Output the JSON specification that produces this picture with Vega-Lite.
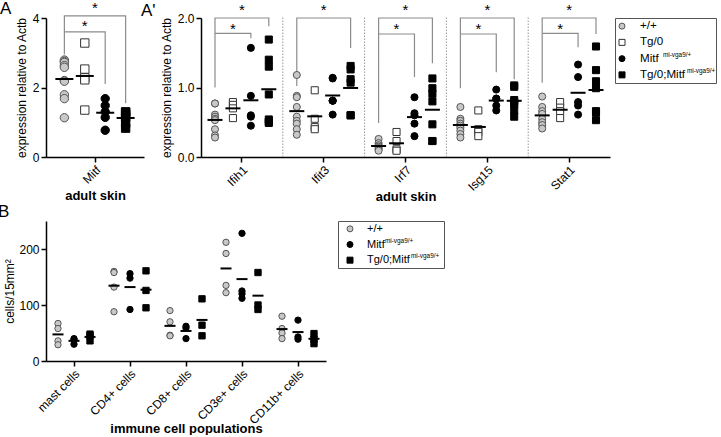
{
  "$schema": "https://vega.github.io/schema/vega-lite/v6.json",
  "background": "white",
  "padding": {"left": -2, "top": 0, "right": 0, "bottom": 0},
  "config": {
    "view": {"stroke": null},
    "font": "Liberation Sans",
    "axis": {"domainColor": "#000", "domainWidth": 1.5, "tickColor": "#000", "tickWidth": 1.5, "tickSize": 5, "labelColor": "#000", "labelFontSize": 12, "titleColor": "#000", "titleFontSize": 12, "titleFontWeight": "normal", "grid": false, "labelFont": "Liberation Sans", "titleFont": "Liberation Sans"},
    "axisY": {"labelOverlap": false},
    "axisX": {"labelAngle": -45, "titleFontWeight": "bold", "titleFontSize": 13},
    "title": {"font": "Liberation Sans", "fontWeight": "normal", "fontSize": 17, "color": "#000"}
  },
  "datasets": {
    "skinA": [
      {"gene": "Mitf", "genotype": "wt", "value": 2.79}, {"gene": "Mitf", "genotype": "wt", "value": 2.75}, {"gene": "Mitf", "genotype": "wt", "value": 2.72}, {"gene": "Mitf", "genotype": "wt", "value": 2.63}, {"gene": "Mitf", "genotype": "wt", "value": 2.58}, {"gene": "Mitf", "genotype": "wt", "value": 2.2}, {"gene": "Mitf", "genotype": "wt", "value": 2.18}, {"gene": "Mitf", "genotype": "wt", "value": 1.79}, {"gene": "Mitf", "genotype": "wt", "value": 1.68}, {"gene": "Mitf", "genotype": "wt", "value": 1.13},
      {"gene": "Mitf", "genotype": "tg", "value": 3.28}, {"gene": "Mitf", "genotype": "tg", "value": 2.53}, {"gene": "Mitf", "genotype": "tg", "value": 2.28}, {"gene": "Mitf", "genotype": "tg", "value": 2.22}, {"gene": "Mitf", "genotype": "tg", "value": 1.35},
      {"gene": "Mitf", "genotype": "mitf", "value": 1.68}, {"gene": "Mitf", "genotype": "mitf", "value": 1.48}, {"gene": "Mitf", "genotype": "mitf", "value": 1.3}, {"gene": "Mitf", "genotype": "mitf", "value": 1.14}, {"gene": "Mitf", "genotype": "mitf", "value": 0.77},
      {"gene": "Mitf", "genotype": "tgmitf", "value": 1.3}, {"gene": "Mitf", "genotype": "tgmitf", "value": 1.28}, {"gene": "Mitf", "genotype": "tgmitf", "value": 1.22}, {"gene": "Mitf", "genotype": "tgmitf", "value": 1.14}, {"gene": "Mitf", "genotype": "tgmitf", "value": 0.97}, {"gene": "Mitf", "genotype": "tgmitf", "value": 0.83}
    ],
    "bracketA": [
      {"gene": "Mitf", "bracket": "outer", "step": 1, "genotype": "wt", "value": 2.95},
      {"gene": "Mitf", "bracket": "outer", "step": 2, "genotype": "wt", "value": 4.06},
      {"gene": "Mitf", "bracket": "outer", "step": 3, "genotype": "tgmitf", "value": 4.06},
      {"gene": "Mitf", "bracket": "outer", "step": 4, "genotype": "tgmitf", "value": 1.55},
      {"gene": "Mitf", "bracket": "inner", "step": 1, "genotype": "wt", "value": 3.6},
      {"gene": "Mitf", "bracket": "inner", "step": 2, "genotype": "mitf", "value": 3.6},
      {"gene": "Mitf", "bracket": "inner", "step": 3, "genotype": "mitf", "value": 2.1}
    ],
    "starA": [
      {"gene": "Mitf", "kind": "outer", "genotype": "tg", "value": 4.14, "label": "*"},
      {"gene": "Mitf", "kind": "inner", "genotype": "tg", "value": 3.64, "label": "*"}
    ],
    "skinAp": [
      {"gene": "Ifih1", "genotype": "wt", "value": 0.77}, {"gene": "Ifih1", "genotype": "wt", "value": 0.77}, {"gene": "Ifih1", "genotype": "wt", "value": 0.61}, {"gene": "Ifih1", "genotype": "wt", "value": 0.58}, {"gene": "Ifih1", "genotype": "wt", "value": 0.55}, {"gene": "Ifih1", "genotype": "wt", "value": 0.53}, {"gene": "Ifih1", "genotype": "wt", "value": 0.4}, {"gene": "Ifih1", "genotype": "wt", "value": 0.31}, {"gene": "Ifih1", "genotype": "wt", "value": 0.28},
      {"gene": "Ifih1", "genotype": "tg", "value": 0.79}, {"gene": "Ifih1", "genotype": "tg", "value": 0.75}, {"gene": "Ifih1", "genotype": "tg", "value": 0.7}, {"gene": "Ifih1", "genotype": "tg", "value": 0.56},
      {"gene": "Ifih1", "genotype": "mitf", "value": 1.57}, {"gene": "Ifih1", "genotype": "mitf", "value": 0.88}, {"gene": "Ifih1", "genotype": "mitf", "value": 0.6}, {"gene": "Ifih1", "genotype": "mitf", "value": 0.58}, {"gene": "Ifih1", "genotype": "mitf", "value": 0.45},
      {"gene": "Ifih1", "genotype": "tgmitf", "value": 1.69}, {"gene": "Ifih1", "genotype": "tgmitf", "value": 1.4}, {"gene": "Ifih1", "genotype": "tgmitf", "value": 1.3}, {"gene": "Ifih1", "genotype": "tgmitf", "value": 0.9}, {"gene": "Ifih1", "genotype": "tgmitf", "value": 0.54}, {"gene": "Ifih1", "genotype": "tgmitf", "value": 0.51}, {"gene": "Ifih1", "genotype": "tgmitf", "value": 0.49},
      {"gene": "Ifit3", "genotype": "wt", "value": 1.18}, {"gene": "Ifit3", "genotype": "wt", "value": 0.88}, {"gene": "Ifit3", "genotype": "wt", "value": 0.86}, {"gene": "Ifit3", "genotype": "wt", "value": 0.72}, {"gene": "Ifit3", "genotype": "wt", "value": 0.58}, {"gene": "Ifit3", "genotype": "wt", "value": 0.52}, {"gene": "Ifit3", "genotype": "wt", "value": 0.48}, {"gene": "Ifit3", "genotype": "wt", "value": 0.4}, {"gene": "Ifit3", "genotype": "wt", "value": 0.32},
      {"gene": "Ifit3", "genotype": "tg", "value": 0.96}, {"gene": "Ifit3", "genotype": "tg", "value": 0.55}, {"gene": "Ifit3", "genotype": "tg", "value": 0.43}, {"gene": "Ifit3", "genotype": "tg", "value": 0.4},
      {"gene": "Ifit3", "genotype": "mitf", "value": 1.14}, {"gene": "Ifit3", "genotype": "mitf", "value": 1.13}, {"gene": "Ifit3", "genotype": "mitf", "value": 0.81}, {"gene": "Ifit3", "genotype": "mitf", "value": 0.81}, {"gene": "Ifit3", "genotype": "mitf", "value": 0.81}, {"gene": "Ifit3", "genotype": "mitf", "value": 0.61},
      {"gene": "Ifit3", "genotype": "tgmitf", "value": 1.31}, {"gene": "Ifit3", "genotype": "tgmitf", "value": 1.26}, {"gene": "Ifit3", "genotype": "tgmitf", "value": 1.12}, {"gene": "Ifit3", "genotype": "tgmitf", "value": 1.07}, {"gene": "Ifit3", "genotype": "tgmitf", "value": 0.6}, {"gene": "Ifit3", "genotype": "tgmitf", "value": 0.6},
      {"gene": "Irf7", "genotype": "wt", "value": 0.26}, {"gene": "Irf7", "genotype": "wt", "value": 0.2}, {"gene": "Irf7", "genotype": "wt", "value": 0.17}, {"gene": "Irf7", "genotype": "wt", "value": 0.15}, {"gene": "Irf7", "genotype": "wt", "value": 0.13}, {"gene": "Irf7", "genotype": "wt", "value": 0.11}, {"gene": "Irf7", "genotype": "wt", "value": 0.09},
      {"gene": "Irf7", "genotype": "tg", "value": 0.36}, {"gene": "Irf7", "genotype": "tg", "value": 0.23}, {"gene": "Irf7", "genotype": "tg", "value": 0.11}, {"gene": "Irf7", "genotype": "tg", "value": 0.09},
      {"gene": "Irf7", "genotype": "mitf", "value": 0.86}, {"gene": "Irf7", "genotype": "mitf", "value": 0.63}, {"gene": "Irf7", "genotype": "mitf", "value": 0.6}, {"gene": "Irf7", "genotype": "mitf", "value": 0.48}, {"gene": "Irf7", "genotype": "mitf", "value": 0.3},
      {"gene": "Irf7", "genotype": "tgmitf", "value": 1.13}, {"gene": "Irf7", "genotype": "tgmitf", "value": 0.99}, {"gene": "Irf7", "genotype": "tgmitf", "value": 0.91}, {"gene": "Irf7", "genotype": "tgmitf", "value": 0.8}, {"gene": "Irf7", "genotype": "tgmitf", "value": 0.47}, {"gene": "Irf7", "genotype": "tgmitf", "value": 0.23}, {"gene": "Irf7", "genotype": "tgmitf", "value": 0.23},
      {"gene": "Isg15", "genotype": "wt", "value": 0.72}, {"gene": "Isg15", "genotype": "wt", "value": 0.55}, {"gene": "Isg15", "genotype": "wt", "value": 0.52}, {"gene": "Isg15", "genotype": "wt", "value": 0.48}, {"gene": "Isg15", "genotype": "wt", "value": 0.45}, {"gene": "Isg15", "genotype": "wt", "value": 0.42}, {"gene": "Isg15", "genotype": "wt", "value": 0.38}, {"gene": "Isg15", "genotype": "wt", "value": 0.33}, {"gene": "Isg15", "genotype": "wt", "value": 0.28},
      {"gene": "Isg15", "genotype": "tg", "value": 0.67}, {"gene": "Isg15", "genotype": "tg", "value": 0.4}, {"gene": "Isg15", "genotype": "tg", "value": 0.36}, {"gene": "Isg15", "genotype": "tg", "value": 0.3},
      {"gene": "Isg15", "genotype": "mitf", "value": 0.97}, {"gene": "Isg15", "genotype": "mitf", "value": 0.84}, {"gene": "Isg15", "genotype": "mitf", "value": 0.84}, {"gene": "Isg15", "genotype": "mitf", "value": 0.74}, {"gene": "Isg15", "genotype": "mitf", "value": 0.67},
      {"gene": "Isg15", "genotype": "tgmitf", "value": 1.03}, {"gene": "Isg15", "genotype": "tgmitf", "value": 1.01}, {"gene": "Isg15", "genotype": "tgmitf", "value": 0.82}, {"gene": "Isg15", "genotype": "tgmitf", "value": 0.79}, {"gene": "Isg15", "genotype": "tgmitf", "value": 0.76}, {"gene": "Isg15", "genotype": "tgmitf", "value": 0.67}, {"gene": "Isg15", "genotype": "tgmitf", "value": 0.58},
      {"gene": "Stat1", "genotype": "wt", "value": 0.87}, {"gene": "Stat1", "genotype": "wt", "value": 0.72}, {"gene": "Stat1", "genotype": "wt", "value": 0.66}, {"gene": "Stat1", "genotype": "wt", "value": 0.62}, {"gene": "Stat1", "genotype": "wt", "value": 0.55}, {"gene": "Stat1", "genotype": "wt", "value": 0.5}, {"gene": "Stat1", "genotype": "wt", "value": 0.46}, {"gene": "Stat1", "genotype": "wt", "value": 0.41},
      {"gene": "Stat1", "genotype": "tg", "value": 0.79}, {"gene": "Stat1", "genotype": "tg", "value": 0.71}, {"gene": "Stat1", "genotype": "tg", "value": 0.66}, {"gene": "Stat1", "genotype": "tg", "value": 0.56},
      {"gene": "Stat1", "genotype": "mitf", "value": 1.33}, {"gene": "Stat1", "genotype": "mitf", "value": 1.15}, {"gene": "Stat1", "genotype": "mitf", "value": 0.79}, {"gene": "Stat1", "genotype": "mitf", "value": 0.74}, {"gene": "Stat1", "genotype": "mitf", "value": 0.61},
      {"gene": "Stat1", "genotype": "tgmitf", "value": 1.59}, {"gene": "Stat1", "genotype": "tgmitf", "value": 1.25}, {"gene": "Stat1", "genotype": "tgmitf", "value": 1.09}, {"gene": "Stat1", "genotype": "tgmitf", "value": 0.99}, {"gene": "Stat1", "genotype": "tgmitf", "value": 0.66}, {"gene": "Stat1", "genotype": "tgmitf", "value": 0.64}, {"gene": "Stat1", "genotype": "tgmitf", "value": 0.53}
    ],
    "bracketAp": [
      {"gene": "Ifih1", "bracket": "Ifih1-o", "step": 1, "genotype": "wt", "value": 1.0},
      {"gene": "Ifih1", "bracket": "Ifih1-o", "step": 2, "genotype": "wt", "value": 2.0},
      {"gene": "Ifih1", "bracket": "Ifih1-o", "step": 3, "genotype": "tgmitf", "value": 2.0},
      {"gene": "Ifih1", "bracket": "Ifih1-o", "step": 4, "genotype": "tgmitf", "value": 1.88},
      {"gene": "Ifih1", "bracket": "Ifih1-i", "step": 1, "genotype": "wt", "value": 1.78},
      {"gene": "Ifih1", "bracket": "Ifih1-i", "step": 2, "genotype": "mitf", "value": 1.78},
      {"gene": "Ifih1", "bracket": "Ifih1-i", "step": 3, "genotype": "mitf", "value": 1.71},
      {"gene": "Ifit3", "bracket": "Ifit3-o", "step": 1, "genotype": "wt", "value": 1.02},
      {"gene": "Ifit3", "bracket": "Ifit3-o", "step": 2, "genotype": "wt", "value": 2.0},
      {"gene": "Ifit3", "bracket": "Ifit3-o", "step": 3, "genotype": "tgmitf", "value": 2.0},
      {"gene": "Ifit3", "bracket": "Ifit3-o", "step": 4, "genotype": "tgmitf", "value": 1.57},
      {"gene": "Irf7", "bracket": "Irf7-o", "step": 1, "genotype": "wt", "value": 0.49},
      {"gene": "Irf7", "bracket": "Irf7-o", "step": 2, "genotype": "wt", "value": 2.0},
      {"gene": "Irf7", "bracket": "Irf7-o", "step": 3, "genotype": "tgmitf", "value": 2.0},
      {"gene": "Irf7", "bracket": "Irf7-o", "step": 4, "genotype": "tgmitf", "value": 1.35},
      {"gene": "Irf7", "bracket": "Irf7-i", "step": 1, "genotype": "wt", "value": 1.77},
      {"gene": "Irf7", "bracket": "Irf7-i", "step": 2, "genotype": "mitf", "value": 1.77},
      {"gene": "Irf7", "bracket": "Irf7-i", "step": 3, "genotype": "mitf", "value": 1.15},
      {"gene": "Isg15", "bracket": "Isg15-o", "step": 1, "genotype": "wt", "value": 0.99},
      {"gene": "Isg15", "bracket": "Isg15-o", "step": 2, "genotype": "wt", "value": 2.0},
      {"gene": "Isg15", "bracket": "Isg15-o", "step": 3, "genotype": "tgmitf", "value": 2.0},
      {"gene": "Isg15", "bracket": "Isg15-o", "step": 4, "genotype": "tgmitf", "value": 1.12},
      {"gene": "Isg15", "bracket": "Isg15-i", "step": 1, "genotype": "wt", "value": 1.77},
      {"gene": "Isg15", "bracket": "Isg15-i", "step": 2, "genotype": "mitf", "value": 1.77},
      {"gene": "Isg15", "bracket": "Isg15-i", "step": 3, "genotype": "mitf", "value": 1.22},
      {"gene": "Stat1", "bracket": "Stat1-o", "step": 1, "genotype": "wt", "value": 1.07},
      {"gene": "Stat1", "bracket": "Stat1-o", "step": 2, "genotype": "wt", "value": 2.0},
      {"gene": "Stat1", "bracket": "Stat1-o", "step": 3, "genotype": "tgmitf", "value": 2.0},
      {"gene": "Stat1", "bracket": "Stat1-o", "step": 4, "genotype": "tgmitf", "value": 1.77},
      {"gene": "Stat1", "bracket": "Stat1-i", "step": 1, "genotype": "wt", "value": 1.78},
      {"gene": "Stat1", "bracket": "Stat1-i", "step": 2, "genotype": "mitf", "value": 1.78},
      {"gene": "Stat1", "bracket": "Stat1-i", "step": 3, "genotype": "mitf", "value": 1.58}
    ],
    "starAp": [
      {"gene": "Ifih1", "kind": "outer", "genotype": "tg", "value": 2.05, "label": "*"},
      {"gene": "Ifih1", "kind": "inner", "genotype": "tg", "value": 1.77, "label": "*"},
      {"gene": "Ifit3", "kind": "outer", "genotype": "tg", "value": 2.05, "label": "*"},
      {"gene": "Irf7", "kind": "outer", "genotype": "tg", "value": 2.05, "label": "*"},
      {"gene": "Irf7", "kind": "inner", "genotype": "tg", "value": 1.77, "label": "*"},
      {"gene": "Isg15", "kind": "outer", "genotype": "tg", "value": 2.05, "label": "*"},
      {"gene": "Isg15", "kind": "inner", "genotype": "tg", "value": 1.77, "label": "*"},
      {"gene": "Stat1", "kind": "outer", "genotype": "tg", "value": 2.05, "label": "*"},
      {"gene": "Stat1", "kind": "inner", "genotype": "tg", "value": 1.77, "label": "*"}
    ],
    "sepAp": [{"gene": "Ifit3"}, {"gene": "Irf7"}, {"gene": "Isg15"}, {"gene": "Stat1"}],
    "legTop": [
      {"genotype": "wt", "label": "+/+", "sup": ""},
      {"genotype": "tg", "label": "Tg/0", "sup": ""},
      {"genotype": "mitf", "label": "Mitf", "sup": "mi-vga9/+"},
      {"genotype": "tgmitf", "label": "Tg/0;Mitf", "sup": "mi-vga9/+"}
    ],
    "legB": [
      {"genotype": "wt", "label": "+/+", "sup": ""},
      {"genotype": "mitf", "label": "Mitf", "sup": "mi-vga9/+"},
      {"genotype": "tgmitf", "label": "Tg/0;Mitf", "sup": "mi-vga9/+"}
    ],
    "immune": [
      {"cell": "mast cells", "genotype": "wt", "value": 67}, {"cell": "mast cells", "genotype": "wt", "value": 58}, {"cell": "mast cells", "genotype": "wt", "value": 36}, {"cell": "mast cells", "genotype": "wt", "value": 29},
      {"cell": "mast cells", "genotype": "mitf", "value": 40}, {"cell": "mast cells", "genotype": "mitf", "value": 38}, {"cell": "mast cells", "genotype": "mitf", "value": 30},
      {"cell": "mast cells", "genotype": "tgmitf", "value": 48}, {"cell": "mast cells", "genotype": "tgmitf", "value": 45}, {"cell": "mast cells", "genotype": "tgmitf", "value": 36},
      {"cell": "CD4+ cells", "genotype": "wt", "value": 160}, {"cell": "CD4+ cells", "genotype": "wt", "value": 158}, {"cell": "CD4+ cells", "genotype": "wt", "value": 132}, {"cell": "CD4+ cells", "genotype": "wt", "value": 88},
      {"cell": "CD4+ cells", "genotype": "mitf", "value": 156}, {"cell": "CD4+ cells", "genotype": "mitf", "value": 148}, {"cell": "CD4+ cells", "genotype": "mitf", "value": 92},
      {"cell": "CD4+ cells", "genotype": "tgmitf", "value": 161}, {"cell": "CD4+ cells", "genotype": "tgmitf", "value": 126}, {"cell": "CD4+ cells", "genotype": "tgmitf", "value": 95},
      {"cell": "CD8+ cells", "genotype": "wt", "value": 90}, {"cell": "CD8+ cells", "genotype": "wt", "value": 70}, {"cell": "CD8+ cells", "genotype": "wt", "value": 46}, {"cell": "CD8+ cells", "genotype": "wt", "value": 45},
      {"cell": "CD8+ cells", "genotype": "mitf", "value": 62}, {"cell": "CD8+ cells", "genotype": "mitf", "value": 59}, {"cell": "CD8+ cells", "genotype": "mitf", "value": 40},
      {"cell": "CD8+ cells", "genotype": "tgmitf", "value": 111}, {"cell": "CD8+ cells", "genotype": "tgmitf", "value": 64}, {"cell": "CD8+ cells", "genotype": "tgmitf", "value": 45},
      {"cell": "CD3e+ cells", "genotype": "wt", "value": 212}, {"cell": "CD3e+ cells", "genotype": "wt", "value": 192}, {"cell": "CD3e+ cells", "genotype": "wt", "value": 135}, {"cell": "CD3e+ cells", "genotype": "wt", "value": 122},
      {"cell": "CD3e+ cells", "genotype": "mitf", "value": 228}, {"cell": "CD3e+ cells", "genotype": "mitf", "value": 125}, {"cell": "CD3e+ cells", "genotype": "mitf", "value": 120}, {"cell": "CD3e+ cells", "genotype": "mitf", "value": 112},
      {"cell": "CD3e+ cells", "genotype": "tgmitf", "value": 158}, {"cell": "CD3e+ cells", "genotype": "tgmitf", "value": 100}, {"cell": "CD3e+ cells", "genotype": "tgmitf", "value": 92},
      {"cell": "CD11b+ cells", "genotype": "wt", "value": 80}, {"cell": "CD11b+ cells", "genotype": "wt", "value": 58}, {"cell": "CD11b+ cells", "genotype": "wt", "value": 50}, {"cell": "CD11b+ cells", "genotype": "wt", "value": 40},
      {"cell": "CD11b+ cells", "genotype": "mitf", "value": 73}, {"cell": "CD11b+ cells", "genotype": "mitf", "value": 43}, {"cell": "CD11b+ cells", "genotype": "mitf", "value": 39},
      {"cell": "CD11b+ cells", "genotype": "tgmitf", "value": 49}, {"cell": "CD11b+ cells", "genotype": "tgmitf", "value": 39}, {"cell": "CD11b+ cells", "genotype": "tgmitf", "value": 31}
    ]
  },
  "resolve": {"scale": {"shape": "independent", "fill": "independent", "stroke": "independent", "xOffset": "independent"}},
  "spacing": 0,
  "vconcat": [
    {
      "resolve": {"scale": {"shape": "independent", "fill": "independent", "stroke": "independent", "xOffset": "independent"}},
      "bounds": "flush",
      "spacing": 57,
      "hconcat": [
        {
          "width": 98,
          "height": 139,
          "title": {"text": "A", "anchor": "start", "frame": "group", "dx": -46, "dy": 21, "offset": 4},
          "layer": [
            {
              "data": {"name": "bracketA"},
              "mark": {"type": "line", "color": "#8c8c8c", "strokeWidth": 1.2},
              "encoding": {
                "x": {"field": "gene", "type": "nominal", "scale": {"domain": ["Mitf"], "paddingInner": 0, "paddingOuter": 0}, "axis": {"title": "adult skin", "titleY": 42, "titleBaseline": "alphabetic"}},
                "xOffset": {"field": "genotype", "type": "nominal", "scale": {"domain": ["wt", "tg", "mitf", "tgmitf"], "paddingInner": 0, "paddingOuter": 0.4}},
                "y": {"field": "value", "type": "quantitative", "scale": {"domain": [0, 4], "nice": false}, "axis": {"values": [0, 1, 2, 3, 4], "title": "expression relative to Actb", "titlePadding": 4}},
                "detail": {"field": "bracket"},
                "order": {"field": "step", "type": "quantitative"}
              }
            },
            {
              "data": {"name": "skinA"},
              "mark": {"type": "point", "filled": true, "size": 70, "strokeWidth": 1, "opacity": 1},
              "encoding": {
                "x": {"field": "gene", "type": "nominal", "title": "adult skin"},
                "xOffset": {"field": "genotype", "type": "nominal"},
                "y": {"field": "value", "type": "quantitative", "title": "expression relative to Actb"},
                "shape": {"field": "genotype", "type": "nominal", "scale": {"domain": ["wt", "tg", "mitf", "tgmitf"], "range": ["circle", "square", "circle", "square"]}, "legend": null},
                "fill": {"field": "genotype", "type": "nominal", "scale": {"domain": ["wt", "tg", "mitf", "tgmitf"], "range": ["#c8c8c8", "#ffffff", "#000000", "#000000"]}, "legend": null},
                "stroke": {"field": "genotype", "type": "nominal", "scale": {"domain": ["wt", "tg", "mitf", "tgmitf"], "range": ["#555555", "#333333", "#000000", "#000000"]}, "legend": null}
              }
            },
            {
              "data": {"name": "skinA"},
              "mark": {"type": "tick", "color": "#000", "size": 18, "thickness": 2},
              "encoding": {
                "x": {"field": "gene", "type": "nominal", "title": "adult skin"},
                "xOffset": {"field": "genotype", "type": "nominal"},
                "y": {"field": "value", "aggregate": "mean", "type": "quantitative", "title": "expression relative to Actb"}
              }
            },
            {
              "data": {"name": "starA"},
              "transform": [{"filter": "datum.kind == 'outer'"}],
              "mark": {"type": "text", "fontSize": 15, "baseline": "alphabetic", "color": "#000"},
              "encoding": {
                "x": {"field": "gene", "type": "nominal", "title": "adult skin"},
                "y": {"field": "value", "type": "quantitative", "title": "expression relative to Actb"},
                "text": {"field": "label"}
              }
            },
            {
              "data": {"name": "starA"},
              "transform": [{"filter": "datum.kind == 'inner'"}],
              "mark": {"type": "text", "fontSize": 15, "baseline": "alphabetic", "color": "#000"},
              "encoding": {
                "x": {"field": "gene", "type": "nominal", "title": "adult skin"},
                "xOffset": {"field": "genotype", "type": "nominal"},
                "y": {"field": "value", "type": "quantitative", "title": "expression relative to Actb"},
                "text": {"field": "label"}
              }
            }
          ]
        },
        {
          "resolve": {"scale": {"shape": "independent", "fill": "independent", "stroke": "independent", "xOffset": "independent", "x": "independent", "y": "independent"}},
          "bounds": "flush",
          "spacing": 5,
          "hconcat": [
            {
              "width": 409,
              "height": 139,
              "title": {"text": "A'", "anchor": "start", "frame": "group", "dx": -60, "dy": 21, "offset": 4},
              "layer": [
                {
                  "data": {"name": "sepAp"},
                  "mark": {"type": "rule", "color": "#999", "strokeWidth": 1, "strokeDash": [1.5, 1.5]},
                  "encoding": {
                    "x": {"field": "gene", "type": "nominal", "bandPosition": 0, "scale": {"domain": ["Ifih1", "Ifit3", "Irf7", "Isg15", "Stat1"], "paddingInner": 0, "paddingOuter": 0}, "axis": {"title": "adult skin", "titleY": 43, "titleBaseline": "alphabetic"}},
                    "y": {"datum": 0, "type": "quantitative", "scale": {"domain": [0, 2], "nice": false}, "axis": {"values": [0, 0.5, 1, 1.5, 2], "format": ".1f", "title": "expression relative to Actb", "titlePadding": 4}},
                    "y2": {"datum": 2.02}
                  }
                },
                {
                  "data": {"name": "bracketAp"},
                  "mark": {"type": "line", "color": "#8c8c8c", "strokeWidth": 1.2},
                  "encoding": {
                    "x": {"field": "gene", "type": "nominal", "title": "adult skin"},
                    "xOffset": {"field": "genotype", "type": "nominal", "scale": {"domain": ["wt", "tg", "mitf", "tgmitf"], "paddingInner": 0, "paddingOuter": 0.28}},
                    "y": {"field": "value", "type": "quantitative", "title": "expression relative to Actb"},
                    "detail": {"field": "bracket"},
                    "order": {"field": "step", "type": "quantitative"}
                  }
                },
                {
                  "data": {"name": "skinAp"},
                  "mark": {"type": "point", "filled": true, "size": 50, "strokeWidth": 1, "opacity": 1},
                  "encoding": {
                    "x": {"field": "gene", "type": "nominal", "title": "adult skin"},
                    "xOffset": {"field": "genotype", "type": "nominal"},
                    "y": {"field": "value", "type": "quantitative", "title": "expression relative to Actb"},
                    "shape": {"field": "genotype", "type": "nominal", "scale": {"domain": ["wt", "tg", "mitf", "tgmitf"], "range": ["circle", "square", "circle", "square"]}, "legend": null},
                    "fill": {"field": "genotype", "type": "nominal", "scale": {"domain": ["wt", "tg", "mitf", "tgmitf"], "range": ["#c8c8c8", "#ffffff", "#000000", "#000000"]}, "legend": null},
                    "stroke": {"field": "genotype", "type": "nominal", "scale": {"domain": ["wt", "tg", "mitf", "tgmitf"], "range": ["#555555", "#333333", "#000000", "#000000"]}, "legend": null}
                  }
                },
                {
                  "data": {"name": "skinAp"},
                  "mark": {"type": "tick", "color": "#000", "size": 15, "thickness": 2},
                  "encoding": {
                    "x": {"field": "gene", "type": "nominal", "title": "adult skin"},
                    "xOffset": {"field": "genotype", "type": "nominal"},
                    "y": {"field": "value", "aggregate": "mean", "type": "quantitative", "title": "expression relative to Actb"}
                  }
                },
                {
                  "data": {"name": "starAp"},
                  "transform": [{"filter": "datum.kind == 'outer'"}],
                  "mark": {"type": "text", "fontSize": 15, "baseline": "alphabetic", "color": "#000"},
                  "encoding": {
                    "x": {"field": "gene", "type": "nominal", "title": "adult skin"},
                    "y": {"field": "value", "type": "quantitative", "title": "expression relative to Actb"},
                    "text": {"field": "label"}
                  }
                },
                {
                  "data": {"name": "starAp"},
                  "transform": [{"filter": "datum.kind == 'inner'"}],
                  "mark": {"type": "text", "fontSize": 15, "baseline": "alphabetic", "color": "#000"},
                  "encoding": {
                    "x": {"field": "gene", "type": "nominal", "title": "adult skin"},
                    "xOffset": {"field": "genotype", "type": "nominal"},
                    "y": {"field": "value", "type": "quantitative", "title": "expression relative to Actb"},
                    "text": {"field": "label"}
                  }
                }
              ]
            },
            {
              "width": 101,
              "height": 65,
              "view": {"stroke": "#555", "strokeWidth": 1, "fill": "white"},
              "data": {"name": "legTop"},
              "layer": [
                {
                  "mark": {"type": "point", "filled": true, "size": 36, "strokeWidth": 1, "opacity": 1},
                  "encoding": {
                    "x": {"datum": 7, "type": "quantitative", "scale": {"domain": [0, 101], "nice": false, "zero": false}, "axis": null},
                    "y": {"field": "genotype", "type": "nominal", "scale": {"domain": ["wt", "tg", "mitf", "tgmitf"], "paddingInner": 0, "paddingOuter": 0.4}, "axis": null},
                    "shape": {"field": "genotype", "type": "nominal", "scale": {"domain": ["wt", "tg", "mitf", "tgmitf"], "range": ["circle", "square", "circle", "square"]}, "legend": null},
                    "fill": {"field": "genotype", "type": "nominal", "scale": {"domain": ["wt", "tg", "mitf", "tgmitf"], "range": ["#c8c8c8", "#ffffff", "#000000", "#000000"]}, "legend": null},
                    "stroke": {"field": "genotype", "type": "nominal", "scale": {"domain": ["wt", "tg", "mitf", "tgmitf"], "range": ["#555555", "#333333", "#000000", "#000000"]}, "legend": null}
                  }
                },
                {
                  "mark": {"type": "text", "align": "left", "baseline": "middle", "fontSize": 11.6, "color": "#000"},
                  "encoding": {
                    "x": {"datum": 25, "type": "quantitative"},
                    "y": {"field": "genotype", "type": "nominal"},
                    "text": {"field": "label"}
                  }
                },
                {
                  "transform": [{"filter": "datum.genotype == 'mitf'"}],
                  "mark": {"type": "text", "align": "left", "baseline": "middle", "fontSize": 6.4, "dy": -4, "color": "#000"},
                  "encoding": {
                    "x": {"datum": 48, "type": "quantitative"},
                    "y": {"field": "genotype", "type": "nominal"},
                    "text": {"field": "sup"}
                  }
                },
                {
                  "transform": [{"filter": "datum.genotype == 'tgmitf'"}],
                  "mark": {"type": "text", "align": "left", "baseline": "middle", "fontSize": 6.4, "dy": -4, "color": "#000"},
                  "encoding": {
                    "x": {"datum": 72, "type": "quantitative"},
                    "y": {"field": "genotype", "type": "nominal"},
                    "text": {"field": "sup"}
                  }
                }
              ]
            }
          ]
        }
      ]
    },
    {
      "resolve": {"scale": {"shape": "independent", "fill": "independent", "stroke": "independent", "xOffset": "independent", "x": "independent", "y": "independent"}},
      "bounds": "flush",
      "spacing": 12,
      "hconcat": [
        {
          "width": 280,
          "height": 140,
          "title": {"text": "B", "anchor": "start", "frame": "group", "dx": -48, "dy": 4, "offset": 4},
          "data": {"name": "immune"},
          "layer": [
            {
              "mark": {"type": "point", "filled": true, "size": 40, "strokeWidth": 1, "opacity": 1},
              "encoding": {
                "x": {"field": "cell", "type": "nominal", "scale": {"domain": ["mast cells", "CD4+ cells", "CD8+ cells", "CD3e+ cells", "CD11b+ cells"], "paddingInner": 0, "paddingOuter": 0}, "axis": {"title": "immune cell populations", "titleY": 71, "titleBaseline": "alphabetic"}},
                "xOffset": {"field": "genotype", "type": "nominal", "scale": {"domain": ["wt", "mitf", "tgmitf"], "paddingInner": 0, "paddingOuter": 0.25}},
                "y": {"field": "value", "type": "quantitative", "scale": {"domain": [0, 250], "nice": false}, "axis": {"values": [0, 50, 100, 150, 200, 250], "title": "cells/15mm²", "titlePadding": 2}},
                "shape": {"field": "genotype", "type": "nominal", "scale": {"domain": ["wt", "mitf", "tgmitf"], "range": ["circle", "circle", "square"]}, "legend": null},
                "fill": {"field": "genotype", "type": "nominal", "scale": {"domain": ["wt", "mitf", "tgmitf"], "range": ["#c8c8c8", "#000000", "#000000"]}, "legend": null},
                "stroke": {"field": "genotype", "type": "nominal", "scale": {"domain": ["wt", "mitf", "tgmitf"], "range": ["#555555", "#000000", "#000000"]}, "legend": null}
              }
            },
            {
              "mark": {"type": "tick", "color": "#000", "size": 11, "thickness": 2},
              "encoding": {
                "x": {"field": "cell", "type": "nominal", "title": "immune cell populations"},
                "xOffset": {"field": "genotype", "type": "nominal"},
                "y": {"field": "value", "aggregate": "mean", "type": "quantitative", "title": "cells/15mm²"}
              }
            }
          ]
        },
        {
          "width": 106,
          "height": 47,
          "view": {"stroke": "#555", "strokeWidth": 1, "fill": "white"},
          "data": {"name": "legB"},
          "layer": [
            {
              "mark": {"type": "point", "filled": true, "size": 36, "strokeWidth": 1, "opacity": 1},
              "encoding": {
                "x": {"datum": 12, "type": "quantitative", "scale": {"domain": [0, 106], "nice": false, "zero": false}, "axis": null},
                "y": {"field": "genotype", "type": "nominal", "scale": {"domain": ["wt", "mitf", "tgmitf"], "paddingInner": 0, "paddingOuter": 0.18}, "axis": null},
                "shape": {"field": "genotype", "type": "nominal", "scale": {"domain": ["wt", "mitf", "tgmitf"], "range": ["circle", "circle", "square"]}, "legend": null},
                "fill": {"field": "genotype", "type": "nominal", "scale": {"domain": ["wt", "mitf", "tgmitf"], "range": ["#c8c8c8", "#000000", "#000000"]}, "legend": null},
                "stroke": {"field": "genotype", "type": "nominal", "scale": {"domain": ["wt", "mitf", "tgmitf"], "range": ["#555555", "#000000", "#000000"]}, "legend": null}
              }
            },
            {
              "mark": {"type": "text", "align": "left", "baseline": "middle", "fontSize": 11, "color": "#000"},
              "encoding": {
                "x": {"datum": 29, "type": "quantitative"},
                "y": {"field": "genotype", "type": "nominal"},
                "text": {"field": "label"}
              }
            },
            {
              "transform": [{"filter": "datum.genotype == 'mitf'"}],
              "mark": {"type": "text", "align": "left", "baseline": "middle", "fontSize": 6.4, "dy": -4, "color": "#000"},
              "encoding": {
                "x": {"datum": 47, "type": "quantitative"},
                "y": {"field": "genotype", "type": "nominal"},
                "text": {"field": "sup"}
              }
            },
            {
              "transform": [{"filter": "datum.genotype == 'tgmitf'"}],
              "mark": {"type": "text", "align": "left", "baseline": "middle", "fontSize": 6.4, "dy": -4, "color": "#000"},
              "encoding": {
                "x": {"datum": 73, "type": "quantitative"},
                "y": {"field": "genotype", "type": "nominal"},
                "text": {"field": "sup"}
              }
            }
          ]
        }
      ]
    }
  ]
}
